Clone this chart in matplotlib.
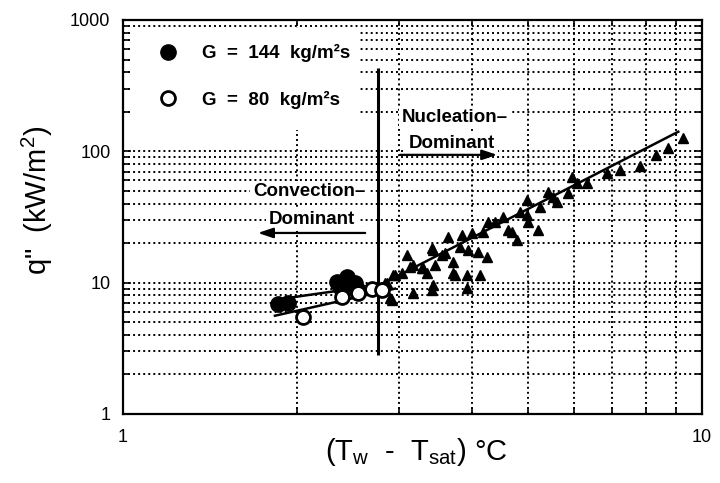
import matplotlib.pyplot as plt
from matplotlib.patches import Rectangle
from matplotlib.ticker import NullFormatter

plt.rcParams['font.family'] = ['Liberation Sans', 'DejaVu Sans']
plt.rcParams['mathtext.default'] = 'regular'

# G = 144 kg/m2s (filled circles)
x144 = [1.85, 1.93, 2.34, 2.37, 2.40, 2.44, 2.52, 2.55]
q144 = [6.9, 7.0, 10.1, 9.3, 8.8, 11.0, 9.95, 8.8]

# G = 80 kg/m2s (open circles)
x80 = [2.05, 2.39, 2.55, 2.69, 2.80]
q80 = [5.5, 7.8, 8.35, 8.95, 8.8]

# nucleation data (triangles)
xtri = [2.84, 2.86, 2.89, 2.92, 2.93, 2.95, 3.03, 3.09, 3.13, 3.17, 3.17, 3.28,
        3.30, 3.35, 3.42, 3.42, 3.43, 3.43, 3.46, 3.56, 3.60, 3.64, 3.72, 3.72,
        3.75, 3.82, 3.85, 3.93, 3.93, 3.94, 4.01, 4.10, 4.14, 4.19, 4.25, 4.27,
        4.39, 4.53, 4.62, 4.70, 4.79, 4.85, 4.99, 4.99, 5.01, 5.21, 5.25, 5.42,
        5.53, 5.62, 5.87, 5.96, 6.08, 6.33, 6.86, 7.22, 7.81, 8.33, 8.74, 9.27]
qtri = [9.95, 9.95, 7.65, 7.4, 11.4, 11.4, 11.9, 16.3, 13.2, 8.35, 13.6, 12.9,
        12.9, 11.9, 18.4, 8.8, 9.6, 17.7, 13.6, 16.3, 16.8, 22.3, 14.4, 11.9,
        11.4, 18.7, 23.1, 11.4, 9.1, 17.7, 23.9, 17.1, 11.4, 24.3, 15.7, 29.0,
        29.0, 31.6, 25.2, 24.3, 21.1, 34.6, 42.6, 32.8, 29.0, 25.2, 37.7, 49.1,
        44.9, 41.2, 48.2, 63.8, 57.4, 57.4, 68.5, 72.2, 77.4, 93.9, 106, 126.5]

# fitted lines
fit144_x = [1.83, 2.76]
fit144_q = [7.4, 9.6]
fit80_x = [1.83, 2.95]
fit80_q = [5.6, 9.0]
fitnuc_x = [2.78, 9.1]
fitnuc_q = [9.6, 141]

# regime boundary
boundary_x = 2.76
boundary_q = (2.8, 430)

fig = plt.figure(figsize=(7.2, 4.83), dpi=100)
ax = fig.add_axes([0.1708, 0.1429, 0.8042, 0.8157])
ax.set_xscale('log')
ax.set_yscale('log')
ax.set_xlim(1, 10)
ax.set_ylim(1, 1000)
ax.set_axisbelow(True)

ax.grid(which='both', color='k', linestyle=(0, (1.0, 1.6)), linewidth=1.4)
ax.set_xticks([1, 10], ['1', '10'])
ax.set_yticks([1, 10, 100, 1000], ['1', '10', '100', '1000'])
ax.xaxis.set_minor_formatter(NullFormatter())
ax.yaxis.set_minor_formatter(NullFormatter())
ax.tick_params(which='both', direction='in', top=True, right=True, labelsize=13, width=1.2)
ax.tick_params(which='major', length=6)
ax.tick_params(which='minor', length=4)
ax.tick_params(axis='x', pad=11)
ax.tick_params(axis='y', pad=9)
for s in ax.spines.values():
    s.set_linewidth(1.6)

# white area behind the legend
ax.add_patch(Rectangle((0.012, 0.721), 0.397, 0.259, transform=ax.transAxes,
                       facecolor='white', edgecolor='none', zorder=1))

ax.plot(fit144_x, fit144_q, 'k-', lw=1.8, zorder=3)
ax.plot(fit80_x, fit80_q, 'k-', lw=1.8, zorder=3)
ax.plot(fitnuc_x, fitnuc_q, 'k-', lw=1.8, zorder=3)
ax.vlines(boundary_x, *boundary_q, color='k', lw=2.2, zorder=3)

ax.plot(xtri, qtri, '^', color='k', ms=7, zorder=4)
ax.plot(x144, q144, 'o', color='k', ms=11, zorder=5, label='G  =  144  kg/m²s')
ax.plot(x80, q80, 'o', mfc='white', mec='k', mew=2, ms=10, zorder=6, label='G  =  80  kg/m²s')

leg = ax.legend(loc='upper left', bbox_to_anchor=(0.062, 0.938), frameon=False,
                prop={'size': 13.5, 'weight': 'bold'}, handlelength=1.0,
                handletextpad=1.3, labelspacing=1.5, borderpad=0, borderaxespad=0)
leg.set_zorder(7)

box = dict(facecolor='white', edgecolor='none', pad=2)
txt = dict(fontsize=13.5, fontweight='bold', ha='center', va='center', bbox=box, zorder=7)
ax.text(2.096, 49.1, 'Convection–', **txt)
ax.text(2.12, 30.0, 'Dominant', **txt)
ax.text(3.745, 181, 'Nucleation–', **txt)
ax.text(3.70, 114, 'Dominant', **txt)

arrow = dict(arrowstyle='-|>,head_length=0.9,head_width=0.3', color='k', lw=1.6,
             shrinkA=0, shrinkB=0)
ax.annotate('', xy=(1.71, 23.9), xytext=(2.62, 23.9), arrowprops=arrow, zorder=7)
ax.annotate('', xy=(4.43, 94), xytext=(3.01, 94), arrowprops=arrow, zorder=7)

ax.set_xlabel('(T$_{w}$  -  T$_{sat}$) °C', fontsize=21)
ax.set_ylabel('q"  (kW/m$^{2}$)', fontsize=21)
ax.xaxis.set_label_coords(0.506, -0.056)
ax.yaxis.set_label_coords(-0.118, 0.543)

fig.savefig('out.png', dpi=100)
